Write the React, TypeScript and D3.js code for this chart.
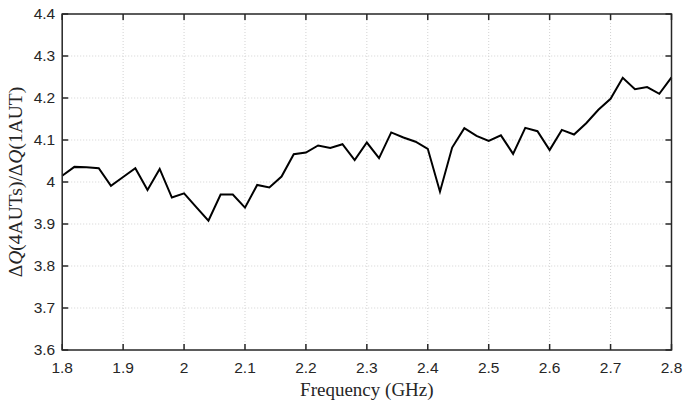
import React, { useEffect, useRef } from 'react';
import * as d3 from 'd3';

// frequency (GHz) and ratio values
const freqs = d3.range(0, 51).map(i => +(1.8 + i * 0.02).toFixed(2));
const ratio = [
  4.015, 4.036, 4.035, 4.033, 3.991, 4.012, 4.033, 3.981, 4.031, 3.963,
  3.973, 3.940, 3.908, 3.970, 3.970, 3.939, 3.993, 3.987, 4.013, 4.066,
  4.070, 4.087, 4.081, 4.090, 4.052, 4.094, 4.057, 4.118, 4.106, 4.096,
  4.079, 3.977, 4.082, 4.128, 4.110, 4.098, 4.111, 4.067, 4.129, 4.121,
  4.076, 4.124, 4.113, 4.140, 4.172, 4.198, 4.248, 4.221, 4.226, 4.210,
  4.249,
];
const xTicks = [1.8, 1.9, 2, 2.1, 2.2, 2.3, 2.4, 2.5, 2.6, 2.7, 2.8];
const yTicks = [3.6, 3.7, 3.8, 3.9, 4, 4.1, 4.2, 4.3, 4.4];

export default function App() {
  const svgRef = useRef<SVGSVGElement>(null);
  const width = 686, height = 403;

  useEffect(() => {
    const margin = { top: 14, right: 14.5, bottom: 53, left: 62.2 };
    const innerW = width - margin.left - margin.right;
    const innerH = height - margin.top - margin.bottom;

    const svg = d3.select(svgRef.current);
    svg.selectAll('*').remove();
    const g = svg.append('g').attr('transform', `translate(${margin.left},${margin.top})`);

    const x = d3.scaleLinear().domain([1.8, 2.8]).range([0, innerW]);
    const y = d3.scaleLinear().domain([3.6, 4.4]).range([innerH, 0]);

    const axisColor = '#262626';
    const gridColor = '#d2d2d2';

    // grid
    g.append('g').selectAll('line').data(yTicks.slice(1, -1)).enter().append('line')
      .attr('x1', 0).attr('x2', innerW)
      .attr('y1', d => y(d)).attr('y2', d => y(d))
      .attr('stroke', gridColor).attr('stroke-width', 1).attr('stroke-dasharray', '1,2');
    g.append('g').selectAll('line').data(xTicks.slice(1, -1)).enter().append('line')
      .attr('x1', d => x(d)).attr('x2', d => x(d))
      .attr('y1', 0).attr('y2', innerH)
      .attr('stroke', gridColor).attr('stroke-width', 1).attr('stroke-dasharray', '1,2');

    // data line
    const line = d3.line<number>()
      .x((_, i) => x(freqs[i]))
      .y(d => y(d));
    g.append('path').datum(ratio)
      .attr('fill', 'none').attr('stroke', '#000').attr('stroke-width', 2)
      .attr('d', line);

    // box
    g.append('rect').attr('x', 0).attr('y', 0).attr('width', innerW).attr('height', innerH)
      .attr('fill', 'none').attr('stroke', axisColor).attr('stroke-width', 1.5);

    // inward ticks on all sides
    const tl = 6;
    const tickG = g.append('g').attr('stroke', axisColor).attr('stroke-width', 1.5);
    xTicks.forEach(t => {
      tickG.append('line').attr('x1', x(t)).attr('x2', x(t)).attr('y1', innerH).attr('y2', innerH - tl);
      tickG.append('line').attr('x1', x(t)).attr('x2', x(t)).attr('y1', 0).attr('y2', tl);
    });
    yTicks.forEach(t => {
      tickG.append('line').attr('x1', 0).attr('x2', tl).attr('y1', y(t)).attr('y2', y(t));
      tickG.append('line').attr('x1', innerW).attr('x2', innerW - tl).attr('y1', y(t)).attr('y2', y(t));
    });

    const tickFont = 'Liberation Sans, Arial, sans-serif';
    g.append('g').selectAll('text').data(xTicks).enter().append('text')
      .attr('x', d => x(d)).attr('y', innerH + 23)
      .attr('text-anchor', 'middle')
      .attr('font-family', tickFont).attr('font-size', 15.5).attr('fill', axisColor)
      .text(d => String(d));
    g.append('g').selectAll('text').data(yTicks).enter().append('text')
      .attr('x', -7).attr('y', d => y(d)).attr('dy', '0.35em')
      .attr('text-anchor', 'end')
      .attr('font-family', tickFont).attr('font-size', 15.5).attr('fill', axisColor)
      .text(d => (d === 4 ? '4' : d.toFixed(1)));

    const serif = 'Liberation Serif, Times New Roman, serif';
    g.append('text')
      .attr('x', innerW / 2).attr('y', innerH + 46)
      .attr('text-anchor', 'middle')
      .attr('font-family', serif).attr('font-size', 19).attr('fill', axisColor)
      .text('Frequency (GHz)');

    const yl = g.append('text')
      .attr('transform', `translate(${-40},${innerH / 2}) rotate(-90)`)
      .attr('text-anchor', 'middle')
      .attr('font-family', serif).attr('font-size', 19.5).attr('fill', axisColor);
    yl.append('tspan').text('Δ');
    yl.append('tspan').attr('font-style', 'italic').text('Q');
    yl.append('tspan').text('(4AUTs)/Δ');
    yl.append('tspan').attr('font-style', 'italic').text('Q');
    yl.append('tspan').text('(1AUT)');
  }, []);

  return (
    <svg ref={svgRef} width={width} height={height}
      style={{ position: 'absolute', left: 0, top: 0, background: 'white' }} />
  );
}
